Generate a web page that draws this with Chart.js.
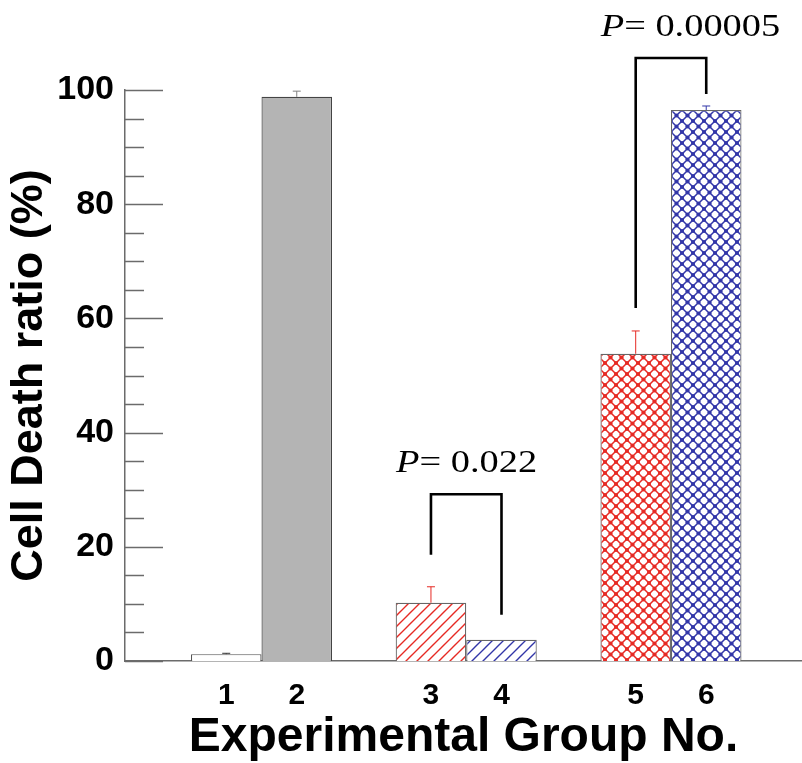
<!DOCTYPE html>
<html><head><meta charset="utf-8">
<script src="https://cdn.jsdelivr.net/npm/chart.js@4/dist/chart.umd.min.js"></script>
<style>html,body{margin:0;padding:0;background:#fff}#wrap{width:802px;height:763px}</style>
</head><body><div id="wrap"><canvas id="c" width="802" height="763"></canvas></div>
<script>
// ---- data ----
const groups = ['1', '2', '3', '4', '5', '6'];
const cellDeath = [1.2, 98.8, 10.2, 3.7, 53.8, 96.5];
const errUpper = [0.15, 1.0, 2.8, 0, 4.0, 0.7];
const yMajorStep = 20;
const yMinorStep = 5;
const pLabels = ['0.022', '0.00005'];
const pPairs = [[2, 3], [4, 5]];
const bracketTop = [29.2, 105.6];
const bracketLeftEnd = [18.6, 61.8];
const bracketRightEnd = [8.1, 99.3];

// ---- styles ----
const RED = '#e62a24', BLUE = '#3236a8';
function hatch(color) {
  const s = 11, c = document.createElement('canvas'); c.width = c.height = s;
  const g = c.getContext('2d');
  g.fillStyle = '#fff'; g.fillRect(0, 0, s, s);
  g.strokeStyle = color; g.lineWidth = 1.4;
  g.beginPath();
  g.moveTo(0, s); g.lineTo(s, 0);
  g.moveTo(-s/2, s/2); g.lineTo(s/2, -s/2);
  g.moveTo(s/2, s*1.5); g.lineTo(s*1.5, s/2);
  g.stroke();
  return g.createPattern(c, 'repeat');
}
function lattice(color) {
  const s = 11, c = document.createElement('canvas'); c.width = c.height = s;
  const g = c.getContext('2d');
  g.fillStyle = '#fff'; g.fillRect(0, 0, s, s);
  g.strokeStyle = color; g.lineWidth = 1.5;
  g.beginPath();
  g.moveTo(0, 0); g.lineTo(s, s);
  g.moveTo(s, 0); g.lineTo(0, s);
  g.stroke();
  g.fillStyle = color;
  [[0,0],[s,0],[0,s],[s,s],[s/2,s/2]].forEach(([px,py]) => { g.beginPath(); g.arc(px, py, 2.1, 0, Math.PI*2); g.fill(); });
  return g.createPattern(c, 'repeat');
}
const fills = ['#ffffff', '#b4b4b4', hatch(RED), hatch(BLUE), lattice(RED), lattice(BLUE)];
const borders = ['#555555', '#444444', '#666666', '#666666', '#666666', '#666666'];
const errColors = ['#333333', '#808080', RED, BLUE, RED, BLUE];

const sideIdx = [[0, 2, 4], [1, 3, 5]];
const datasets = sideIdx.map(idx => ({
  data: idx.map(i => ({ x: Math.floor(i / 2), y: cellDeath[i] })),
  backgroundColor: idx.map(i => fills[i]),
  borderColor: idx.map(i => borders[i]),
  borderWidth: 1.2,
  categoryPercentage: 0.689,
  barPercentage: 1
}));

function barEl(chart, i) { return chart.getDatasetMeta(i % 2).data[Math.floor(i / 2)]; }

const overlay = {
  id: 'overlay',
  afterDatasetsDraw(chart) {
    const ctx = chart.ctx, y = chart.scales.y, area = chart.chartArea;
    ctx.save();
    // y tick marks drawn inward
    ctx.strokeStyle = '#6b6b6b'; ctx.lineWidth = 1.5;
    for (let v = y.min; v <= y.max; v += yMinorStep) {
      const py = Math.round(y.getPixelForValue(v)) + 0.5;
      const len = (v % yMajorStep === 0) ? 38 : 19;
      ctx.beginPath(); ctx.moveTo(area.left, py); ctx.lineTo(area.left + len, py); ctx.stroke();
    }
    // error bars (upper)
    ctx.lineWidth = 1;
    groups.forEach((g, i) => {
      if (!errUpper[i]) return;
      const el = barEl(chart, i);
      const y0 = y.getPixelForValue(cellDeath[i]);
      const y1 = y.getPixelForValue(cellDeath[i] + errUpper[i]);
      ctx.strokeStyle = errColors[i];
      ctx.beginPath(); ctx.moveTo(el.x, y0); ctx.lineTo(el.x, y1);
      ctx.moveTo(el.x - 4, y1); ctx.lineTo(el.x + 4, y1); ctx.stroke();
    });
    // x category labels
    ctx.fillStyle = '#000'; ctx.font = 'bold 30px "Liberation Sans", Arial, sans-serif';
    ctx.textAlign = 'center'; ctx.textBaseline = 'alphabetic';
    groups.forEach((g, i) => { ctx.fillText(g, barEl(chart, i).x, area.bottom + 43); });
    // significance brackets
    ctx.strokeStyle = '#000'; ctx.lineWidth = 2.6; ctx.lineCap = 'butt'; ctx.lineJoin = 'miter';
    pPairs.forEach(([a, b], k) => {
      const xa = barEl(chart, a).x, xb = barEl(chart, b).x;
      const yt = y.getPixelForValue(bracketTop[k]);
      ctx.beginPath();
      ctx.moveTo(xa, y.getPixelForValue(bracketLeftEnd[k]));
      ctx.lineTo(xa, yt); ctx.lineTo(xb, yt);
      ctx.lineTo(xb, y.getPixelForValue(bracketRightEnd[k]));
      ctx.stroke();
      ctx.save();
      ctx.translate(xa - 35, yt - 22);
      ctx.scale(1.2, 1);
      ctx.textAlign = 'left';
      ctx.font = 'italic 32px "Liberation Serif", "Times New Roman", serif';
      ctx.fillText('P', 0, 0);
      const w = ctx.measureText('P').width;
      ctx.font = '32px "Liberation Serif", "Times New Roman", serif';
      ctx.fillText('= ' + pLabels[k], w, 0);
      ctx.restore();
    });
    ctx.restore();
  }
};

new Chart(document.getElementById('c'), {
  type: 'bar',
  data: { datasets },
  options: {
    responsive: false, animation: false,
    layout: { padding: { top: 90, right: 0, left: 0, bottom: 0 } },
    plugins: { legend: { display: false }, tooltip: { enabled: false } },
    scales: {
      x: {
        type: 'linear', min: -2 / 3, max: 2.64, offset: false,
        grid: { display: false, drawTicks: false },
        border: { display: true, color: '#6b6b6b', width: 1.5 },
        ticks: { display: false, stepSize: 1 },
        afterBuildTicks(s) { s.ticks = s.ticks.filter(t => Number.isInteger(t.value)); },
        title: { display: true, text: 'Experimental Group No.', color: '#000',
          font: { family: '"Liberation Sans", Arial, sans-serif', weight: 'bold', size: 48, lineHeight: 1 },
          padding: { top: 0, bottom: 1 } },
        afterFit(s) { s.height = 102; }
      },
      y: {
        min: 0, max: 100,
        grid: { display: false, drawTicks: false },
        border: { display: true, color: '#6b6b6b', width: 1.5 },
        ticks: { stepSize: yMajorStep, padding: 11, color: '#000',
          font: { family: '"Liberation Sans", Arial, sans-serif', weight: 'bold', size: 34 } },
        title: { display: true, text: 'Cell Death ratio (%)', color: '#000',
          font: { family: '"Liberation Sans", Arial, sans-serif', weight: 'bold', size: 45, lineHeight: 1 },
          padding: { top: 7.5, bottom: 0 } },
        afterFit(s) { s.width = 125; }
      }
    }
  },
  plugins: [overlay]
});
</script>
</body></html>
